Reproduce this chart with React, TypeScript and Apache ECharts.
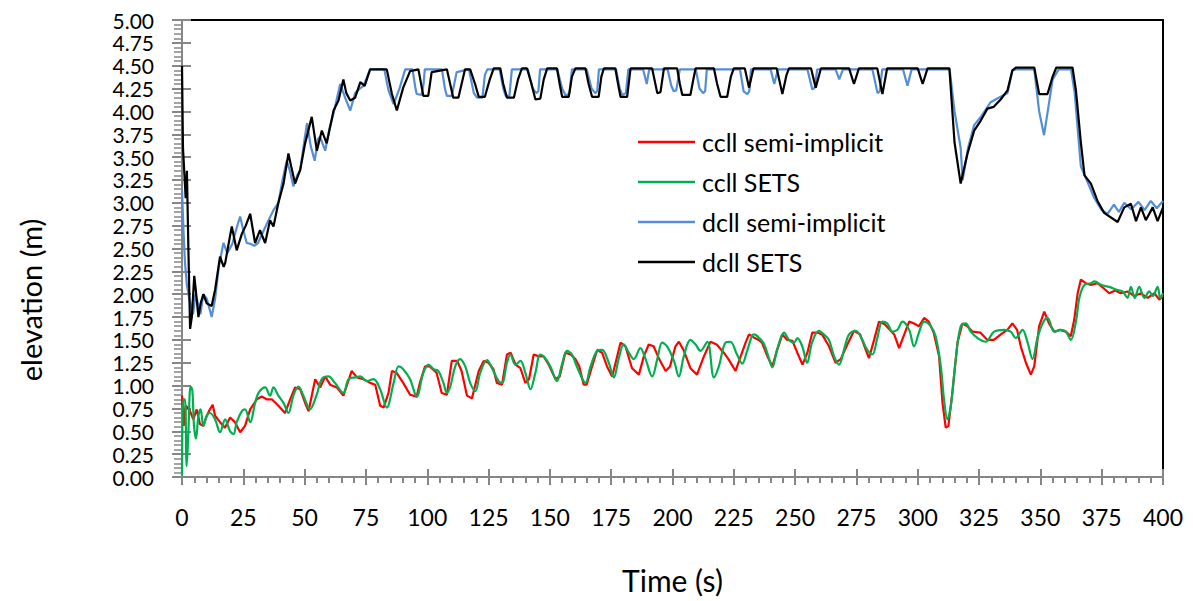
import React, { useEffect, useRef } from "react";
import * as echarts from "echarts";

// [time (s), elevation (m)]
const ccllSemiImplicit: number[][] = [
  [0, 0.89], [0.7, 0.56], [1.5, 0.78], [3.0, 0.74], [4.6, 0.63], [6.0, 0.74], [7.3, 0.58], [8.7, 0.56],
  [10.1, 0.67], [11.4, 0.74], [12.5, 0.79], [13.5, 0.67], [15.5, 0.6], [17.5, 0.54], [19.6, 0.65], [21.6, 0.6],
  [23.7, 0.49], [25.7, 0.56], [27.8, 0.74], [30.5, 0.85], [32.5, 0.88], [34.5, 0.85], [36.6, 0.85], [39.3, 0.78],
  [42.0, 0.7], [44.1, 0.85], [46.1, 0.98], [48.2, 0.96], [50.2, 0.81], [51.6, 0.72], [54.3, 1.07], [56.3, 0.98],
  [58.4, 1.1], [60.4, 1.01], [63.1, 0.98], [65.8, 0.89], [69.2, 1.16], [71.3, 1.09], [74.0, 1.07], [76.7, 1.03],
  [78.8, 1.01], [80.8, 0.78], [82.2, 0.76], [84.2, 0.92], [85.6, 1.16], [87.5, 1.14], [90.2, 1.03], [93.0, 0.9],
  [95.7, 0.88], [97.0, 1.03], [99.1, 1.21], [101.0, 1.21], [103.8, 1.14], [105.9, 0.92], [108.0, 0.9], [110.0, 1.27],
  [112.2, 1.27], [114.0, 1.16], [116.2, 0.89], [118.2, 0.86], [121.0, 1.16], [123.0, 1.27], [125.0, 1.25], [127.0, 1.18],
  [128.4, 1.03], [130.5, 1.01], [132.5, 1.34], [134.0, 1.36], [136.0, 1.23], [138.0, 1.19], [140.0, 1.03], [141.5, 1.07],
  [143.4, 1.34], [145.5, 1.32], [147.5, 1.32], [149.5, 1.23], [152.3, 1.07], [154.0, 1.1], [156.3, 1.36], [158.5, 1.34],
  [160.4, 1.29], [162.0, 1.21], [163.8, 1.01], [165.0, 1.01], [167.2, 1.21], [169.3, 1.39], [171.3, 1.36], [173.3, 1.21],
  [175.4, 1.1], [176.8, 1.25], [178.8, 1.47], [180.8, 1.43], [183.5, 1.19], [186.3, 1.12], [188.3, 1.32], [190.3, 1.45],
  [192.3, 1.43], [194.4, 1.3], [197.2, 1.16], [199.0, 1.21], [201.2, 1.43], [202.6, 1.48], [204.5, 1.39], [207.3, 1.19],
  [210.0, 1.12], [212.8, 1.32], [215.5, 1.48], [218.0, 1.45], [220.9, 1.36], [222.8, 1.29], [225.7, 1.16], [227.8, 1.32],
  [229.8, 1.47], [231.2, 1.56], [233.0, 1.53], [235.2, 1.5], [236.5, 1.47], [238.7, 1.32], [240.7, 1.21], [242.8, 1.4],
  [244.8, 1.56], [246.8, 1.5], [248.9, 1.49], [250.9, 1.36], [253.0, 1.23], [255.0, 1.36], [257.0, 1.58], [259.0, 1.58],
  [261.0, 1.56], [263.8, 1.43], [266.5, 1.25], [268.6, 1.29], [271.3, 1.45], [274.0, 1.6], [276.5, 1.56], [278.8, 1.39],
  [280.1, 1.3], [282.2, 1.5], [284.2, 1.7], [286.5, 1.67], [289.0, 1.6], [290.4, 1.56], [292.4, 1.41], [294.5, 1.56],
  [296.5, 1.7], [298.5, 1.68], [300.5, 1.65], [302.6, 1.74], [304.5, 1.7], [306.5, 1.58], [308.7, 1.32], [310.1, 0.81],
  [311.4, 0.54], [312.5, 0.56], [314.1, 0.92], [316.2, 1.47], [318.2, 1.68], [320.3, 1.65], [322.3, 1.59], [325.5, 1.58],
  [328.4, 1.5], [331.0, 1.5], [333.9, 1.56], [336.5, 1.61], [338.6, 1.68], [340.5, 1.61], [342.0, 1.43], [344.1, 1.25],
  [346.1, 1.12], [347.5, 1.21], [349.5, 1.65], [351.6, 1.81], [353.5, 1.68], [355.7, 1.59], [358.0, 1.61], [360.4, 1.59],
  [362.4, 1.54], [363.8, 1.72], [365.2, 2.01], [366.5, 2.16], [368.5, 2.12], [370.6, 2.1], [373.3, 2.12], [376.0, 2.06],
  [378.1, 2.01], [380.5, 2.04], [382.8, 2.01], [385.5, 2.03], [388.3, 1.98], [391.0, 2.01], [393.7, 1.96], [396.5, 2.01],
  [398.5, 1.94], [400.0, 1.98],
];

const ccllSets: number[][] = [
  [0, 0.02], [0.5, 0.85], [1.2, 0.85], [1.9, 0.12], [2.6, 0.49], [3.5, 0.99], [4.2, 0.95], [4.9, 0.56],
  [5.7, 0.42], [6.7, 0.67], [7.6, 0.74], [8.7, 0.56], [10.1, 0.67], [11.4, 0.7], [13.5, 0.63], [15.5, 0.49],
  [17.6, 0.63], [19.6, 0.5], [21.0, 0.47], [22.3, 0.6], [24.4, 0.72], [25.7, 0.74], [27.8, 0.6], [29.8, 0.81],
  [31.2, 0.92], [33.9, 0.98], [35.9, 0.89], [37.3, 0.98], [39.3, 0.89], [41.4, 0.81], [43.4, 0.7], [45.4, 0.89],
  [47.5, 0.99], [49.5, 0.89], [52.2, 0.74], [54.8, 0.89], [57.0, 1.07], [59.7, 1.1], [62.3, 1.03], [65.8, 0.92],
  [67.9, 1.07], [70.6, 1.09], [72.7, 1.1], [75.4, 1.05], [78.1, 1.07], [80.8, 0.96], [83.5, 0.76], [86.3, 1.03],
  [88.3, 1.21], [90.2, 1.18], [93.0, 1.07], [95.7, 0.88], [98.4, 1.14], [100.5, 1.23], [102.6, 1.18], [104.5, 1.16],
  [106.6, 1.03], [108.0, 0.92], [109.4, 0.99], [111.4, 1.21], [113.4, 1.29], [115.5, 1.21], [117.5, 1.03], [119.6, 0.94],
  [121.6, 1.14], [124.4, 1.28], [126.4, 1.19], [129.1, 1.05], [130.5, 1.03], [132.5, 1.25], [133.9, 1.34], [135.9, 1.23],
  [138.0, 1.27], [140.0, 1.14], [142.1, 0.96], [144.1, 1.14], [146.1, 1.34], [148.1, 1.3], [150.2, 1.21], [152.9, 1.05],
  [154.9, 1.23], [157.0, 1.38], [159.0, 1.34], [161.0, 1.21], [164.5, 1.03], [166.6, 1.21], [169.3, 1.38], [171.3, 1.39],
  [174.0, 1.25], [176.1, 1.09], [178.1, 1.3], [180.1, 1.45], [182.2, 1.36], [184.2, 1.29], [186.9, 1.41], [188.9, 1.3],
  [191.7, 1.1], [193.8, 1.29], [195.8, 1.47], [197.8, 1.43], [200.6, 1.27], [202.6, 1.1], [204.6, 1.32], [207.3, 1.5],
  [209.4, 1.45], [211.4, 1.38], [214.2, 1.48], [216.9, 1.09], [218.9, 1.21], [221.6, 1.47], [223.6, 1.48], [226.3, 1.34],
  [228.5, 1.24], [230.2, 1.36], [232.5, 1.55], [233.3, 1.56], [235.4, 1.52], [237.4, 1.45], [239.4, 1.29], [240.7, 1.2],
  [242.7, 1.4], [245.5, 1.58], [247.5, 1.5], [249.5, 1.47], [250.9, 1.52], [252.9, 1.43], [254.9, 1.25], [256.9, 1.47],
  [259.7, 1.6], [261.7, 1.56], [263.8, 1.5], [265.9, 1.32], [267.9, 1.23], [270.0, 1.4], [272.0, 1.56], [274.7, 1.6],
  [277.4, 1.5], [279.4, 1.39], [281.5, 1.34], [283.5, 1.52], [285.6, 1.7], [287.6, 1.68], [289.7, 1.59], [291.7, 1.61],
  [293.8, 1.7], [296.5, 1.61], [298.5, 1.43], [300.5, 1.58], [302.6, 1.7], [305.3, 1.65], [307.3, 1.54], [309.4, 1.21],
  [310.7, 0.85], [312.1, 0.63], [313.5, 0.78], [315.5, 1.29], [317.5, 1.65], [319.6, 1.68], [321.6, 1.59], [324.4, 1.52],
  [327.7, 1.48], [331.1, 1.59], [335.2, 1.61], [337.9, 1.59], [340.0, 1.52], [342.7, 1.61], [344.8, 1.47], [346.8, 1.29],
  [348.8, 1.52], [350.9, 1.68], [352.9, 1.74], [355.7, 1.59], [358.4, 1.61], [360.4, 1.59], [362.4, 1.5], [364.5, 1.7],
  [365.9, 1.96], [367.9, 2.1], [370.6, 2.12], [372.0, 2.14], [375.0, 2.1], [378.1, 2.08], [380.8, 2.05], [383.5, 2.03],
  [385.5, 1.96], [386.9, 2.08], [388.5, 1.96], [390.3, 2.08], [392.4, 1.96], [394.4, 2.03], [395.8, 1.98], [397.8, 2.08],
  [398.9, 1.96], [400.0, 2.01],
];

const dcllSemiImplicit: number[][] = [
  [0, 3.15], [0.6, 2.7], [1.2, 2.35], [2.0, 2.1], [3.0, 1.95], [4.5, 1.78], [5.5, 2.0], [6.5, 1.9],
  [7.5, 1.78], [8.7, 2.0], [10.1, 1.95], [12.1, 1.75], [13.5, 1.95], [15.0, 2.3], [16.9, 2.56], [18.5, 2.45],
  [20.5, 2.55], [22.0, 2.7], [23.7, 2.85], [25.0, 2.7], [26.4, 2.56], [28.0, 2.55], [29.5, 2.53], [31.0, 2.56],
  [32.5, 2.65], [34.6, 2.77], [37.3, 2.92], [39.3, 3.0], [41.0, 3.25], [42.7, 3.46], [44.0, 3.35], [45.4, 3.18],
  [47.0, 3.3], [48.2, 3.36], [50.0, 3.7], [51.0, 3.87], [52.5, 3.62], [54.1, 3.46], [55.5, 3.7], [56.3, 3.72],
  [58.4, 3.57], [60.0, 3.8], [61.8, 3.98], [64.5, 4.3], [66.5, 4.15], [68.6, 4.01], [70.6, 4.2], [72.5, 4.25],
  [74.0, 4.28], [76.7, 4.46], [82.5, 4.46], [84.2, 4.23], [86.3, 4.08], [88.8, 4.26], [91.0, 4.46], [94.0, 4.46],
  [95.2, 4.25], [95.7, 4.19], [97.7, 4.18], [98.5, 4.3], [99.0, 4.46], [106.0, 4.46], [107.2, 4.25], [108.0, 4.17],
  [110.0, 4.17], [111.0, 4.3], [112.0, 4.43], [117.0, 4.46], [119.0, 4.2], [120.3, 4.15], [122.5, 4.15], [123.5, 4.4],
  [124.5, 4.46], [129.5, 4.46], [131.0, 4.25], [132.0, 4.17], [133.5, 4.17], [134.5, 4.46], [141.0, 4.46], [143.0, 4.25],
  [144.5, 4.2], [145.3, 4.22], [146.0, 4.46], [153.0, 4.46], [155.0, 4.25], [156.5, 4.17], [158.0, 4.2], [159.0, 4.46],
  [165.0, 4.46], [167.0, 4.25], [168.5, 4.2], [169.3, 4.22], [170.0, 4.46], [177.0, 4.46], [178.5, 4.25], [179.5, 4.18],
  [181.0, 4.2], [182.0, 4.46], [188.0, 4.46], [189.5, 4.3], [190.5, 4.46], [198.0, 4.46], [199.5, 4.28], [200.5, 4.22],
  [201.5, 4.23], [203.0, 4.46], [209.5, 4.46], [211.0, 4.25], [212.5, 4.2], [213.3, 4.22], [214.0, 4.46], [227.5, 4.46],
  [229.0, 4.22], [230.5, 4.19], [231.3, 4.22], [232.0, 4.46], [240.0, 4.46], [241.5, 4.3], [243.0, 4.46], [255.0, 4.46],
  [257.0, 4.24], [258.0, 4.26], [259.0, 4.46], [266.5, 4.46], [268.0, 4.35], [269.5, 4.46], [281.5, 4.46], [283.6, 4.2],
  [284.5, 4.22], [285.5, 4.46], [294.0, 4.46], [295.8, 4.28], [297.5, 4.46], [313.0, 4.46], [315.0, 4.0], [317.5, 3.6],
  [318.3, 3.25], [320.5, 3.6], [323.0, 3.85], [326.0, 3.95], [329.7, 4.1], [333.0, 4.15], [336.6, 4.2], [338.6, 4.45],
  [340.0, 4.46], [347.5, 4.46], [349.5, 4.0], [351.5, 3.74], [353.0, 4.0], [355.0, 4.35], [357.5, 4.46], [362.5, 4.46],
  [364.0, 4.2], [366.5, 3.4], [369.5, 3.21], [372.0, 3.05], [375.0, 2.92], [377.4, 2.88], [380.0, 2.98], [382.0, 2.9],
  [384.2, 3.0], [387.0, 2.93], [390.0, 3.01], [392.5, 2.92], [395.0, 3.02], [397.5, 2.94], [400.0, 3.02],
];

const dcllSets: number[][] = [
  [0, 4.5], [0.4, 3.6], [1.0, 3.3], [1.5, 3.05], [2.0, 3.35], [2.6, 2.5], [3.3, 1.62], [4.0, 1.75],
  [5.0, 2.2], [5.6, 2.05], [6.7, 1.75], [7.6, 1.9], [8.7, 2.0], [10.1, 1.9], [12.1, 1.87], [13.5, 2.05],
  [15.5, 2.41], [17.0, 2.3], [17.6, 2.34], [19.0, 2.55], [20.3, 2.74], [22.3, 2.48], [24.4, 2.66], [26.0, 2.75],
  [27.8, 2.88], [29.8, 2.56], [31.8, 2.7], [33.9, 2.56], [35.9, 2.81], [37.3, 2.74], [39.3, 3.0], [41.4, 3.21],
  [43.4, 3.54], [44.5, 3.4], [46.1, 3.21], [48.2, 3.36], [50.2, 3.65], [52.9, 3.94], [55.0, 3.57], [57.0, 3.79],
  [59.0, 3.65], [61.8, 4.01], [63.8, 4.12], [65.8, 4.35], [67.0, 4.2], [68.6, 4.12], [70.6, 4.15], [72.7, 4.32],
  [74.5, 4.28], [76.7, 4.46], [83.5, 4.46], [85.6, 4.19], [87.6, 4.01], [90.2, 4.26], [93.0, 4.44], [96.4, 4.46],
  [98.4, 4.17], [100.4, 4.17], [101.8, 4.43], [108.0, 4.46], [110.6, 4.15], [112.7, 4.15], [115.4, 4.46], [117.5, 4.46],
  [119.5, 4.3], [121.0, 4.16], [123.5, 4.16], [125.5, 4.35], [127.1, 4.47], [129.8, 4.47], [131.0, 4.3], [132.5, 4.15],
  [135.3, 4.15], [137.0, 4.35], [138.6, 4.47], [140.7, 4.47], [142.5, 4.3], [144.1, 4.13], [146.1, 4.14], [147.5, 4.35],
  [148.9, 4.47], [152.9, 4.47], [154.0, 4.3], [155.0, 4.16], [157.7, 4.16], [159.0, 4.38], [160.4, 4.47], [164.5, 4.47],
  [165.8, 4.3], [167.2, 4.16], [169.9, 4.16], [171.0, 4.38], [172.0, 4.47], [176.7, 4.47], [177.8, 4.3], [178.8, 4.16],
  [181.5, 4.16], [182.9, 4.47], [191.7, 4.47], [193.8, 4.2], [195.1, 4.21], [196.5, 4.47], [201.9, 4.47], [203.0, 4.3],
  [204.0, 4.18], [207.3, 4.18], [208.5, 4.35], [209.4, 4.47], [216.9, 4.47], [218.2, 4.3], [219.6, 4.16], [222.3, 4.16],
  [223.8, 4.38], [225.0, 4.47], [229.5, 4.47], [231.2, 4.26], [233.0, 4.47], [242.5, 4.47], [244.8, 4.19], [246.5, 4.4],
  [247.5, 4.47], [256.5, 4.47], [258.4, 4.26], [260.5, 4.47], [272.0, 4.47], [274.0, 4.3], [276.0, 4.47], [283.5, 4.47],
  [285.6, 4.19], [287.5, 4.47], [300.0, 4.47], [302.0, 4.3], [304.0, 4.47], [312.9, 4.47], [315.0, 3.66], [317.5, 3.21],
  [320.3, 3.54], [323.0, 3.79], [325.7, 3.9], [328.4, 4.03], [331.0, 4.05], [333.8, 4.13], [336.6, 4.23], [338.6, 4.45],
  [340.0, 4.48], [347.5, 4.48], [349.5, 4.19], [352.9, 4.19], [355.0, 4.38], [356.5, 4.48], [363.1, 4.48], [364.5, 4.23],
  [366.5, 3.66], [368.0, 3.3], [370.6, 3.21], [373.3, 3.02], [376.0, 2.89], [381.5, 2.79], [384.2, 2.95], [386.9, 2.99],
  [389.0, 2.8], [391.0, 2.95], [393.0, 2.81], [395.8, 2.95], [397.8, 2.8], [400.0, 2.95],
];

const seriesNames = ["ccll semi-implicit", "ccll SETS", "dcll semi-implicit", "dcll SETS"];
const seriesColors = ["#FF0000", "#00B050", "#558ED5", "#000000"];
const xTickLabels = { min: 0, max: 400, interval: 25 };
const yTickLabels = { min: 0, max: 5, interval: 0.25 };
const axisTitles = { x: "Time (s)", y: "elevation (m)" };

const FONT = "Lato, 'Open Sans', sans-serif";
const GRAY = "#868686";

export default function App() {
  const ref = useRef<HTMLDivElement>(null);
  useEffect(() => {
    if (!ref.current) return;
    const chart = echarts.init(ref.current, null, { renderer: "svg" });
    const allData = [ccllSemiImplicit, ccllSets, dcllSemiImplicit, dcllSets];
    chart.setOption({
      animation: false,
      backgroundColor: "#ffffff",
      textStyle: { fontFamily: FONT },
      grid: { left: 182, right: 30, top: 20, bottom: 124, containLabel: false },
      legend: {
        orient: "vertical",
        left: 633,
        top: 124,
        icon: "rect",
        itemWidth: 57,
        itemHeight: 2.5,
        itemGap: 14,
        data: seriesNames,
        textStyle: { fontSize: 25, lineHeight: 26, color: "#000", fontFamily: FONT, padding: [0, 0, 0, 2] },
      },
      graphic: [
        {
          type: "text",
          x: 30,
          y: 300,
          rotation: Math.PI / 2,
          style: {
            text: axisTitles.y,
            fill: "#000",
            font: `29px ${FONT}`,
            textAlign: "center",
            textVerticalAlign: "middle",
          },
        },
      ],
      xAxis: [
        {
          type: "value",
          min: xTickLabels.min,
          max: xTickLabels.max,
          interval: xTickLabels.interval,
          position: "bottom",
          name: axisTitles.x,
          nameLocation: "middle",
          nameGap: 88,
          nameTextStyle: { fontSize: 30, color: "#000", fontFamily: FONT },
          axisLine: { show: true, onZero: false, lineStyle: { color: GRAY, width: 2 } },
          axisTick: { show: true, inside: false, length: 8, lineStyle: { color: GRAY, width: 2 } },
          minorTick: { show: true, splitNumber: 5, length: 6, lineStyle: { color: GRAY, width: 2 } },
          splitLine: { show: false },
          axisLabel: { fontSize: 23, color: "#000", margin: 28, fontFamily: FONT },
        },
        {
          type: "value",
          min: xTickLabels.min,
          max: xTickLabels.max,
          interval: xTickLabels.interval,
          position: "bottom",
          axisLine: { show: true, onZero: false, lineStyle: { color: GRAY, width: 2 } },
          axisTick: { show: true, inside: true, length: 8, lineStyle: { color: GRAY, width: 2 } },
          splitLine: { show: false },
          axisLabel: { show: false },
        },
        {
          type: "value",
          min: xTickLabels.min,
          max: xTickLabels.max,
          position: "top",
          axisLine: { show: true, onZero: false, lineStyle: { color: "#000", width: 2 } },
          axisTick: { show: false },
          splitLine: { show: false },
          axisLabel: { show: false },
        },
      ],
      yAxis: [
        {
          type: "value",
          min: yTickLabels.min,
          max: yTickLabels.max,
          interval: yTickLabels.interval,
          position: "left",
          axisLine: { show: true, onZero: false, lineStyle: { color: GRAY, width: 2 } },
          axisTick: { show: true, inside: false, length: 10, lineStyle: { color: GRAY, width: 2 } },
          minorTick: { show: true, splitNumber: 5, length: 8, lineStyle: { color: GRAY, width: 1.5 } },
          splitLine: { show: false },
          axisLabel: {
            fontSize: 21,
            lineHeight: 20,
            color: "#000",
            margin: 28,
            fontFamily: FONT,
            formatter: (v: number) => v.toFixed(2),
          },
        },
        {
          type: "value",
          min: yTickLabels.min,
          max: yTickLabels.max,
          interval: yTickLabels.interval,
          position: "left",
          axisLine: { show: false },
          axisTick: { show: true, inside: true, length: 9, lineStyle: { color: GRAY, width: 2 } },
          splitLine: { show: false },
          axisLabel: { show: false },
        },
        {
          type: "value",
          min: yTickLabels.min,
          max: yTickLabels.max,
          position: "right",
          axisLine: { show: true, onZero: false, lineStyle: { color: "#000", width: 2 } },
          axisTick: { show: false },
          splitLine: { show: false },
          axisLabel: { show: false },
        },
      ],
      series: seriesNames.map((name, i) => ({
        name,
        type: "line",
        xAxisIndex: 0,
        yAxisIndex: 0,
        data: allData[i],
        symbol: "none",
        showSymbol: false,
        smooth: i === 1 ? 0.35 : false,
        lineStyle: { color: seriesColors[i], width: 2.2 },
        itemStyle: { color: seriesColors[i] },
        z: 2 + i,
      })),
    });
    return () => chart.dispose();
  }, []);
  return <div ref={ref} style={{ width: 1193, height: 601, position: "absolute", left: 0, top: 0 }} />;
}
